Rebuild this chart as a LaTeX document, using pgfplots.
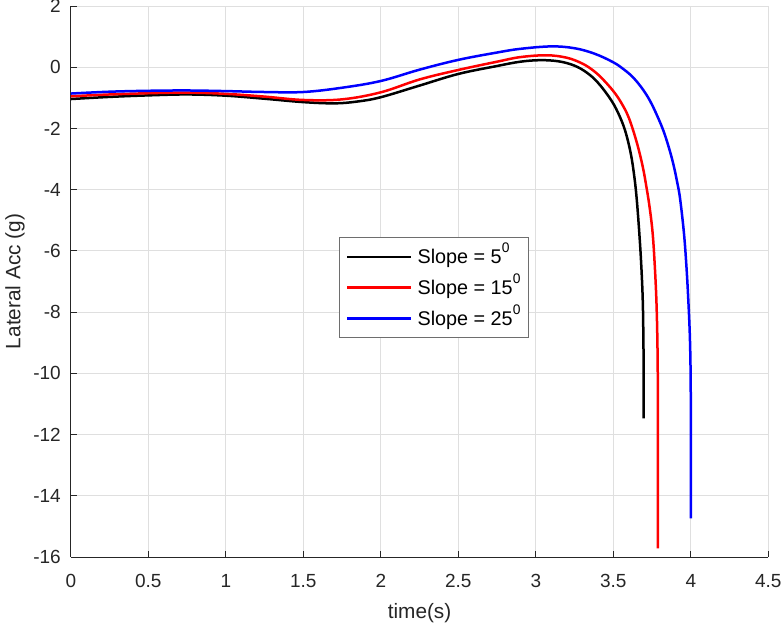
\documentclass[border=0pt]{standalone}
\usepackage{pgfplots}
\pgfplotsset{compat=1.18}
\usepackage{fontspec}
\setmainfont{Liberation Sans}
\definecolor{axgray}{RGB}{38,38,38}
\definecolor{gridgray}{RGB}{223,223,223}
\definecolor{legframe}{RGB}{110,110,110}

\pgfplotstableread{
x y
0 -1.04
0.25 -0.97
0.5 -0.92
0.75 -0.89
1.0 -0.93
1.25 -1.03
1.5 -1.14
1.7 -1.18
1.85 -1.12
2.0 -0.98
2.25 -0.60
2.5 -0.22
2.75 0.04
2.9 0.18
3.03 0.23
3.15 0.19
3.25 0.05
3.33 -0.18
3.40 -0.50
3.479 -1.02
3.53 -1.48
3.575 -2.05
3.612 -2.80
3.635 -3.55
3.651 -4.30
3.668 -5.43
3.681 -6.52
3.690 -7.61
3.694 -8.80
3.696 -10.10
3.696 -11.47
}\blackdata

\pgfplotstableread{
x y
0 -0.95
0.25 -0.89
0.5 -0.85
0.75 -0.83
1.0 -0.87
1.25 -0.96
1.5 -1.07
1.75 -1.05
2.0 -0.82
2.25 -0.40
2.5 -0.09
2.75 0.18
2.9 0.33
3.07 0.39
3.20 0.31
3.30 0.12
3.371 -0.11
3.43 -0.38
3.50 -0.78
3.55 -1.15
3.60 -1.65
3.651 -2.45
3.69 -3.25
3.715 -3.95
3.735 -4.60
3.754 -5.43
3.768 -6.52
3.778 -7.61
3.784 -8.80
3.787 -10.10
3.788 -11.50
3.788 -12.90
3.788 -14.30
3.788 -15.72
}\reddata

\pgfplotstableread{
x y
0 -0.86
0.25 -0.80
0.5 -0.77
0.75 -0.76
1.0 -0.78
1.25 -0.81
1.5 -0.81
1.75 -0.67
2.0 -0.45
2.25 -0.08
2.5 0.24
2.75 0.48
2.9 0.60
3.1 0.68
3.25 0.62
3.38 0.44
3.5 0.16
3.57 -0.08
3.629 -0.34
3.69 -0.72
3.737 -1.10
3.78 -1.55
3.823 -2.07
3.86 -2.65
3.888 -3.18
3.912 -3.75
3.931 -4.30
3.956 -5.43
3.972 -6.52
3.984 -7.61
3.994 -8.80
3.999 -10.10
4.0 -11.60
4.0 -13.10
4.0 -14.74
}\bluedata

\begin{document}
\begin{tikzpicture}
\begin{axis}[
  scale only axis,
  width=348.75pt, height=275.5pt,
  xmin=0, xmax=4.5, ymin=-16, ymax=2,
  axis x line=bottom, axis y line=left,
  axis line style={draw=axgray, line width=0.45pt, -},
  xtick={0,0.5,1,1.5,2,2.5,3,3.5,4,4.5},
  xticklabels={0,0.5,1,1.5,2,2.5,3,3.5,4,4.5},
  ytick={-16,-14,-12,-10,-8,-6,-4,-2,0,2},
  yticklabels={-16,-14,-12,-10,-8,-6,-4,-2,0,2},
  tick align=inside,
  major tick length=3pt,
  tick style={draw=axgray, line width=0.45pt},
  grid=major,
  grid style={draw=gridgray, line width=0.45pt},
  ticklabel style={font=\fontsize{9.5}{11}\selectfont, text=axgray},
  xticklabel style={yshift=-5pt},
  yticklabel style={xshift=-1.5pt},
  every axis x label/.style={at={(axis description cs:0.5,0)}, anchor=center, yshift=-28.3pt},
  every axis y label/.style={at={(axis description cs:0,0.5)}, xshift=-27.9pt, rotate=90, anchor=center},
  label style={font=\fontsize{10.4}{12}\selectfont, text=axgray},
  xlabel={time(s)},
  ylabel={Lateral Acc (g)},
  legend image code/.code={\draw[#1] (0pt,0pt) -- (32pt,0pt);},
  legend cell align=left,
  legend style={
    at={(axis cs:1.73,-5.55)}, anchor=north west,
    draw=legframe, line width=0.5pt, fill=white,
    inner xsep=3.3pt, inner ysep=3.6pt,
    row sep=3.4pt,
    font=\fontsize{9.9}{11}\selectfont,
    nodes={inner sep=0pt, text height=9.5pt, text depth=2.5pt},
    /tikz/every odd column/.append style={column sep=2.5pt},
  },
  clip=false,
]
\addplot[black, line width=1.25pt, smooth, tension=0.6] table[x=x,y=y] {\blackdata};
\addlegendentry{Slope = 5\raisebox{0.35ex}{\textsuperscript{0}}}
\addplot[red, line width=1.25pt, smooth, tension=0.6] table[x=x,y=y] {\reddata};
\addlegendentry{Slope = 15\raisebox{0.35ex}{\textsuperscript{0}}}
\addplot[blue, line width=1.25pt, smooth, tension=0.6] table[x=x,y=y] {\bluedata};
\addlegendentry{Slope = 25\raisebox{0.35ex}{\textsuperscript{0}}}
\coordinate (bbsw) at (rel axis cs:0,0);
\coordinate (bbne) at (rel axis cs:1,1);
\end{axis}
\pgfresetboundingbox
\path[use as bounding box] ([xshift=-35.4pt,yshift=-34pt]bbsw) rectangle ([xshift=6.85pt,yshift=3pt]bbne);
\end{tikzpicture}
\end{document}
